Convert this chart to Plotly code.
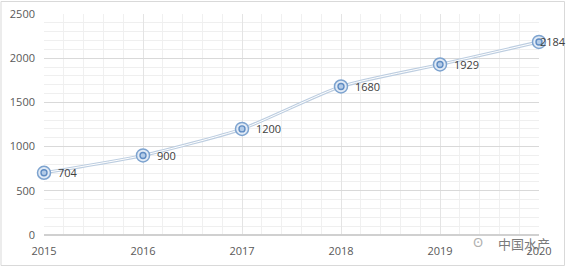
import plotly.graph_objects as go

years = [2015, 2016, 2017, 2018, 2019, 2020]
values = [704, 900, 1200, 1680, 1929, 2184]
labels = [str(v) for v in values]
label_shift = [12, 12, 12, 12, 12, -1]

fig = go.Figure()
fig.add_trace(go.Scatter(x=years, y=values, mode="lines",
                         line=dict(color="#bccde0", width=3.2, shape="spline", smoothing=0.6),
                         hoverinfo="skip", cliponaxis=False))
fig.add_trace(go.Scatter(x=years, y=values, mode="lines",
                         line=dict(color="#ffffff", width=1.0, shape="spline", smoothing=0.6),
                         hoverinfo="skip", cliponaxis=False))
fig.add_trace(go.Scatter(x=years, y=values, mode="markers",
                         marker=dict(symbol="circle", size=13, color="#e2ebf6",
                                     line=dict(color="#7da3cf", width=1.5)),
                         cliponaxis=False))
fig.add_trace(go.Scatter(x=years, y=values, mode="markers",
                         marker=dict(symbol="circle", size=6, color="#b3cbe7",
                                     line=dict(color="#5f8cc3", width=1.4)),
                         cliponaxis=False))

for x, y, t, s in zip(years, values, labels, label_shift):
    fig.add_annotation(x=x, y=y, text=t, showarrow=False, xanchor="left", yanchor="middle",
                       xshift=s, font=dict(family="Open Sans, Noto Sans", size=11, color="#404040"))

fig.update_layout(
    width=566, height=267,
    margin=dict(l=44, r=27, t=14, b=32, autoexpand=False),
    paper_bgcolor="white", plot_bgcolor="white",
    showlegend=False,
    font=dict(family="Open Sans, Noto Sans", size=11, color="#595959"),
    xaxis=dict(range=[2015, 2020], tickvals=years, ticktext=[str(y) for y in years],
               automargin=False,
               showgrid=True, gridcolor="#e4e4e4", gridwidth=1,
               minor=dict(dtick=0.2, showgrid=True, gridcolor="#f0f0f0", gridwidth=1),
               zeroline=False, showline=False, ticks="", ticklabelstandoff=8,
               tickfont=dict(size=11, color="#595959")),
    yaxis=dict(range=[0, 2500], dtick=500, tick0=0, automargin=False,
               showgrid=True, gridcolor="#d9d9d9", gridwidth=1,
               minor=dict(dtick=100, showgrid=True, gridcolor="#efefef", gridwidth=1),
               zeroline=True, zerolinecolor="#d0d0d0", showline=False, ticks="",
               ticklabelstandoff=8,
               tickfont=dict(size=11, color="#595959")),
    shapes=[dict(type="rect", xref="paper", yref="paper", x0=-43/495, x1=1+25.5/495,
                 y0=-30.5/221, y1=1+12.5/221, line=dict(color="#d9d9d9", width=1))],
)
fig.add_annotation(x=(496-44)/495, y=(235-243)/221, xref="paper", yref="paper",
                   text="中国水产", showarrow=False, xanchor="left", yanchor="middle",
                   font=dict(family="Noto Sans CJK SC", size=13, color="#7a7a7a"))
fig.add_annotation(x=(478-44)/495, y=(235-242)/221, xref="paper", yref="paper",
                   text="ʘ", showarrow=False, xanchor="center", yanchor="middle",
                   font=dict(size=13, color="#b0b0b0"))

fig.write_html("out.html")
